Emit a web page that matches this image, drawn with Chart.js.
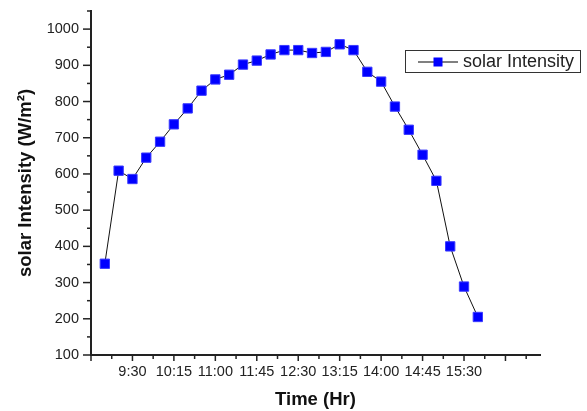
<!DOCTYPE html>
<html>
<head>
<meta charset="utf-8">
<script src="https://cdn.jsdelivr.net/npm/chart.js@4"></script>
<style>
  body { margin: 0; background: #fff; }
  #wrap { width: 587px; height: 411px; }
</style>
</head>
<body>
<div id="wrap"><canvas id="grafico"></canvas></div>
<script>
// datos
const horas = ['9:00', '9:15', '9:30', '9:45', '10:00', '10:15', '10:30', '10:45',
  '11:00', '11:15', '11:30', '11:45', '12:00', '12:15', '12:30', '12:45',
  '13:00', '13:15', '13:30', '13:45', '14:00', '14:15', '14:30', '14:45',
  '15:00', '15:15', '15:30', '15:45'];
const intensidad = [352, 609, 586, 645, 689, 737, 781, 830, 861, 874, 902, 913, 930, 942,
  942, 934, 937, 958, 942, 882, 855, 786, 722, 653, 581, 400, 289, 205];
const etiquetasX = ['9:30', '10:15', '11:00', '11:45', '12:30', '13:15', '14:00', '14:45', '15:30'];
const etiquetasY = [100, 200, 300, 400, 500, 600, 700, 800, 900, 1000];

const aMinutos = (t) => {
  const [h, m] = t.split(':').map(Number);
  return h * 60 + m;
};

const fuente = "'Liberation Sans', Arial, sans-serif";
const X_MIN = aMinutos('8:45');
const X_MAX = X_MIN + 487.5;

// marcas mayores y menores de los ejes
const marcas = {
  id: 'marcas',
  afterDraw(chart) {
    const { ctx, scales: { x, y } } = chart;
    ctx.save();
    ctx.strokeStyle = '#222';
    ctx.lineWidth = 1.5;
    for (let v = X_MIN; v <= X_MAX; v += 22.5) {
      const px = x.getPixelForValue(v);
      const largo = ((v - X_MIN) % 45 === 0) ? 6 : 4;
      ctx.beginPath();
      ctx.moveTo(px, y.bottom);
      ctx.lineTo(px, y.bottom + largo);
      ctx.stroke();
    }
    for (let v = 100; v <= 1050; v += 50) {
      const py = y.getPixelForValue(v);
      const largo = (v % 100 === 0) ? 8 : 4;
      ctx.beginPath();
      ctx.moveTo(x.left, py);
      ctx.lineTo(x.left - largo, py);
      ctx.stroke();
    }

    // leyenda
    ctx.strokeStyle = '#333';
    ctx.lineWidth = 1;
    ctx.strokeRect(405.5, 50.5, 175, 22);
    ctx.strokeStyle = '#808080';
    ctx.lineWidth = 2;
    ctx.beginPath();
    ctx.moveTo(418, 62);
    ctx.lineTo(458, 62);
    ctx.stroke();
    ctx.fillStyle = '#0000ff';
    ctx.fillRect(433.5, 57.5, 9, 9);
    ctx.fillStyle = '#222';
    ctx.font = '18px ' + fuente;
    ctx.textBaseline = 'middle';
    ctx.fillText(chart.data.datasets[0].label, 463, 62);
    ctx.restore();
  }
};

const dataSolar = {
  datasets: [{
    label: 'solar Intensity',
    data: horas.map((h, i) => ({ x: aMinutos(h), y: intensidad[i] })),
    borderColor: '#111',
    borderWidth: 1,
    pointStyle: 'rect',
    pointRadius: 6.6,
    pointBackgroundColor: '#0000ff',
    pointBorderColor: '#3a3aff',
    pointBorderWidth: 1,
    tension: 0,
  }]
};

const configSolar = {
  type: 'line',
  data: dataSolar,
  options: {
    responsive: true,
    maintainAspectRatio: false,
    animation: false,
    layout: { padding: { top: 11, right: 47, left: 0, bottom: 0 } },
    plugins: {
      legend: { display: false },
      tooltip: { enabled: false }
    },
    scales: {
      x: {
        type: 'linear',
        min: X_MIN,
        max: X_MAX,
        afterBuildTicks: (s) => { s.ticks = etiquetasX.map(t => ({ value: aMinutos(t) })); },
        afterFit: (s) => { s.height = 56; s.paddingLeft = 0; s.paddingRight = 0; },
        grid: { display: true, drawOnChartArea: false, drawTicks: false },
        border: { display: true, color: '#222', width: 2 },
        ticks: {
          padding: 8,
          color: '#222',
          font: { family: fuente, size: 14.5 },
          maxRotation: 0,
          callback: (v) => etiquetasX[etiquetasX.map(aMinutos).indexOf(v)]
        },
        title: {
          display: true,
          text: 'Time (Hr)',
          color: '#111',
          font: { family: fuente, size: 18.5, weight: 'bold' },
          padding: { top: 0, bottom: 0 }
        }
      },
      y: {
        min: 100,
        max: 1050,
        afterBuildTicks: (s) => { s.ticks = etiquetasY.map(v => ({ value: v })); },
        afterFit: (s) => { s.width = 91; s.paddingTop = 0; s.paddingBottom = 0; },
        grid: { display: true, drawOnChartArea: false, drawTicks: false },
        border: { display: true, color: '#222', width: 2 },
        ticks: {
          padding: 12,
          color: '#222',
          font: { family: fuente, size: 14.5 },
          callback: (v) => String(v)
        },
        title: {
          display: true,
          text: 'solar Intensity (W/m²)',
          color: '#111',
          font: { family: fuente, size: 18.5, weight: 'bold' },
          padding: { top: 15, bottom: 0 }
        }
      }
    }
  },
  plugins: [marcas]
};

new Chart(document.getElementById('grafico'), configSolar);
</script>
</body>
</html>
